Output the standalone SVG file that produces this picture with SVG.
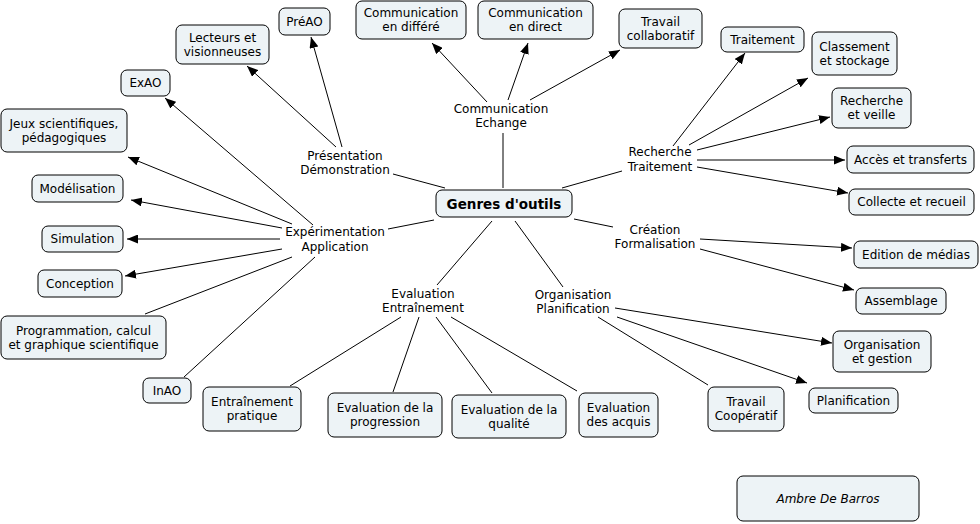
<svg xmlns="http://www.w3.org/2000/svg" width="980" height="524" viewBox="0 0 980 524">
<style>
.n rect{fill:#edf3f6;stroke:#000;stroke-width:1}
text{font-family:"DejaVu Sans",Verdana,sans-serif;font-size:12px;fill:#000;text-anchor:middle}
.b{font-weight:bold;font-size:13.5px}
.i{font-style:italic}
#links line{stroke:#000;stroke-width:1}
#links line.a{marker-end:url(#ah)}
</style>
<defs>
<marker id="ah" markerUnits="userSpaceOnUse" markerWidth="11" markerHeight="9" refX="11" refY="4.5" orient="auto"><path d="M0,0 L11,4.5 L0,9 z" fill="#000"/></marker>
</defs>
<rect width="980" height="524" fill="#fff"/>
<g id="links">
<line x1="445" y1="188" x2="393" y2="174"/>
<line x1="503" y1="188" x2="503" y2="133"/>
<line x1="562" y1="188" x2="622" y2="171"/>
<line x1="574" y1="219" x2="613" y2="227"/>
<line x1="515" y1="221" x2="563" y2="287"/>
<line x1="492" y1="221" x2="437" y2="285"/>
<line x1="434" y1="220" x2="388" y2="229"/>
<line class="a" x1="342" y1="147" x2="311" y2="37"/>
<line class="a" x1="336" y1="147" x2="247" y2="66"/>
<line class="a" x1="313" y1="225" x2="165" y2="98"/>
<line class="a" x1="292" y1="224" x2="128" y2="157"/>
<line class="a" x1="282" y1="228" x2="131" y2="200"/>
<line class="a" x1="280" y1="239" x2="127" y2="239"/>
<line class="a" x1="282" y1="249" x2="125" y2="276"/>
<line x1="292" y1="257" x2="145" y2="314"/>
<line x1="315" y1="257" x2="184" y2="377"/>
<line x1="401" y1="317" x2="290" y2="386"/>
<line x1="419" y1="317" x2="393" y2="392"/>
<line x1="436" y1="317" x2="492" y2="393"/>
<line x1="451" y1="317" x2="577" y2="391"/>
<line x1="598" y1="317" x2="708" y2="385"/>
<line class="a" x1="615" y1="308" x2="832" y2="343"/>
<line class="a" x1="617" y1="317" x2="807" y2="383"/>
<line class="a" x1="700" y1="239" x2="852" y2="248"/>
<line class="a" x1="700" y1="249" x2="854" y2="290"/>
<line class="a" x1="673" y1="146" x2="745" y2="53"/>
<line class="a" x1="689" y1="145" x2="808" y2="78"/>
<line class="a" x1="697" y1="150" x2="830" y2="117"/>
<line class="a" x1="697" y1="160" x2="845" y2="160"/>
<line class="a" x1="697" y1="167" x2="848" y2="193"/>
<line class="a" x1="487" y1="102" x2="432" y2="43"/>
<line class="a" x1="508" y1="100" x2="528" y2="43"/>
<line class="a" x1="530" y1="100" x2="620" y2="50"/>
</g>
<g id="lp-presentation"><text x="345" y="160">Présentation</text><text x="345" y="174">Démonstration</text></g>
<g id="lp-communication"><text x="501" y="113">Communication</text><text x="501" y="127">Echange</text></g>
<g id="lp-recherche"><text x="660" y="156">Recherche</text><text x="660" y="171">Traitement</text></g>
<g id="lp-experimentation"><text x="335" y="236">Expérimentation</text><text x="335" y="251">Application</text></g>
<g id="lp-creation"><text x="655" y="234">Création</text><text x="655" y="248">Formalisation</text></g>
<g id="lp-evaluation"><text x="423" y="298">Evaluation</text><text x="423" y="312">Entraînement</text></g>
<g id="lp-organisation"><text x="573" y="299">Organisation</text><text x="573" y="313">Planification</text></g>

<g id="n-preao" class="n"><rect x="279" y="8" width="51" height="27" rx="6"/><text x="304.5" y="26">PréAO</text></g>
<g id="n-lecteurs" class="n"><rect x="176" y="25" width="93" height="39" rx="6"/><text x="222.5" y="41.5">Lecteurs et</text><text x="222.5" y="55.5">visionneuses</text></g>
<g id="n-exao" class="n"><rect x="121" y="70" width="49" height="26" rx="6"/><text x="145.5" y="87">ExAO</text></g>
<g id="n-jeux" class="n"><rect x="1" y="109" width="126" height="43" rx="6"/><text x="64" y="127.5">Jeux scientifiques,</text><text x="64" y="141.5">pédagogiques</text></g>
<g id="n-modelisation" class="n"><rect x="32" y="175" width="91" height="27" rx="6"/><text x="77.5" y="192.5">Modélisation</text></g>
<g id="n-simulation" class="n"><rect x="42" y="226" width="81" height="26" rx="6"/><text x="82.5" y="243">Simulation</text></g>
<g id="n-conception" class="n"><rect x="38" y="270" width="84" height="27" rx="6"/><text x="80" y="287.5">Conception</text></g>
<g id="n-programmation" class="n"><rect x="1" y="316" width="165" height="43" rx="6"/><text x="83.5" y="334.5">Programmation, calcul</text><text x="83.5" y="348.5">et graphique scientifique</text></g>
<g id="n-inao" class="n"><rect x="143" y="378" width="48" height="25" rx="6"/><text x="167" y="394.5">InAO</text></g>
<g id="n-entrainement" class="n"><rect x="203" y="387" width="98" height="44" rx="6"/><text x="252" y="406">Entraînement</text><text x="252" y="420">pratique</text></g>
<g id="n-progression" class="n"><rect x="328" y="393" width="114" height="44" rx="6"/><text x="385" y="412">Evaluation de la</text><text x="385" y="426">progression</text></g>
<g id="n-qualite" class="n"><rect x="452" y="395" width="114" height="43" rx="6"/><text x="509" y="413.5">Evaluation de la</text><text x="509" y="427.5">qualité</text></g>
<g id="n-acquis" class="n"><rect x="579" y="393" width="79" height="44" rx="6"/><text x="618.5" y="412">Evaluation</text><text x="618.5" y="426">des acquis</text></g>
<g id="n-cooperatif" class="n"><rect x="708" y="387" width="76" height="44" rx="6"/><text x="746" y="406">Travail</text><text x="746" y="420">Coopératif</text></g>
<g id="n-planification" class="n"><rect x="809" y="388" width="89" height="25" rx="6"/><text x="853.5" y="404.5">Planification</text></g>
<g id="n-organisation" class="n"><rect x="833" y="331" width="98" height="41" rx="6"/><text x="882" y="348.5">Organisation</text><text x="882" y="362.5">et gestion</text></g>
<g id="n-assemblage" class="n"><rect x="856" y="288" width="90" height="26" rx="6"/><text x="901" y="305">Assemblage</text></g>
<g id="n-edition" class="n"><rect x="854" y="241" width="124" height="27" rx="6"/><text x="916" y="258.5">Edition de médias</text></g>
<g id="n-collecte" class="n"><rect x="849" y="189" width="125" height="26" rx="6"/><text x="911.5" y="206">Collecte et recueil</text></g>
<g id="n-acces" class="n"><rect x="847" y="146" width="127" height="27" rx="6"/><text x="910.5" y="163.5">Accès et transferts</text></g>
<g id="n-veille" class="n"><rect x="832" y="88" width="79" height="40" rx="6"/><text x="871.5" y="105">Recherche</text><text x="871.5" y="119">et veille</text></g>
<g id="n-classement" class="n"><rect x="812" y="32" width="85" height="43" rx="6"/><text x="854.5" y="50.5">Classement</text><text x="854.5" y="64.5">et stockage</text></g>
<g id="n-traitement" class="n"><rect x="721" y="27" width="83" height="25" rx="6"/><text x="762.5" y="43.5">Traitement</text></g>
<g id="n-collaboratif" class="n"><rect x="619" y="9" width="83" height="39" rx="6"/><text x="660.5" y="25.5">Travail</text><text x="660.5" y="39.5">collaboratif</text></g>
<g id="n-direct" class="n"><rect x="478" y="1" width="115" height="38" rx="6"/><text x="535.5" y="17">Communication</text><text x="535.5" y="31">en direct</text></g>
<g id="n-differe" class="n"><rect x="356" y="1" width="110" height="38" rx="6"/><text x="411" y="17">Communication</text><text x="411" y="31">en différé</text></g>
<g id="n-genres" class="n"><rect x="436" y="190" width="136" height="27" rx="6"/><text class="b" x="504" y="208.5">Genres d'outils</text></g>
<g id="n-auteur" class="n"><rect x="737" y="476" width="182" height="45" rx="6"/><text class="i" x="828" y="502.5">Ambre De Barros</text></g>
</svg>
